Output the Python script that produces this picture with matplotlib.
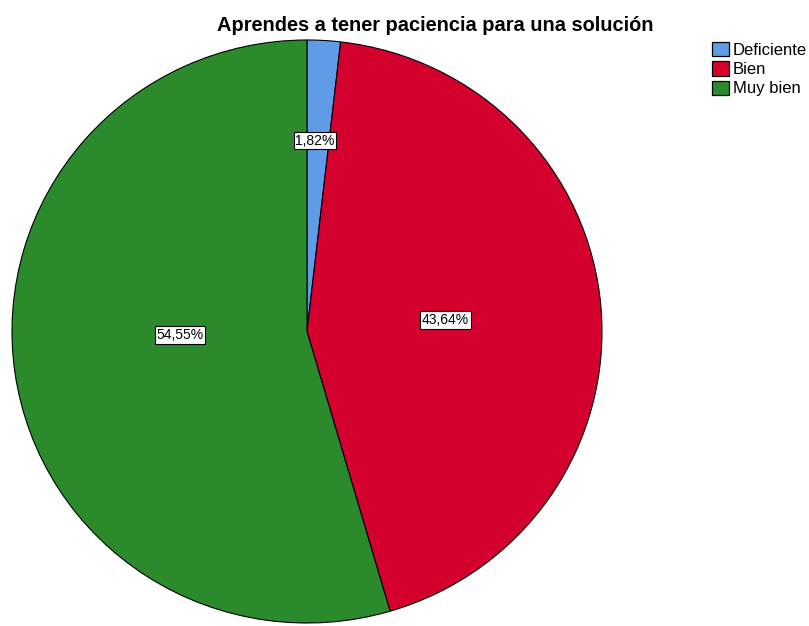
import numpy as np
import matplotlib.pyplot as plt
from matplotlib.patches import Patch

plt.rcParams['font.family'] = ['Liberation Sans', 'DejaVu Sans']

# datos
categorias = ['Deficiente', 'Bien', 'Muy bien']
porcentajes = [1.82, 43.64, 54.55]
colores = ['#5f9be6', '#d4002e', '#2b8a2b']
titulo = 'Aprendes a tener paciencia para una solución'

W, H = 809, 626
fig = plt.figure(figsize=(W / 100, H / 100), dpi=100)

# ejes en pixeles
cx, cy, rx, ry = 307, 331.5, 295, 291.5
ax = fig.add_axes([(cx - rx) / W, 1 - (cy + ry) / H, 2 * rx / W, 2 * ry / H])

wedges, _ = ax.pie(porcentajes, colors=colores, startangle=90, counterclock=False,
                   wedgeprops=dict(edgecolor='black', linewidth=0.8))
ax.set_aspect('auto')
ax.set_xlim(-1, 1)
ax.set_ylim(-1, 1)

# etiquetas con recuadro blanco (posicion en unidades del eje)
pos_etiquetas = [(0.027, 0.655), (0.47, 0.04), (-0.43, -0.012)]
for (x, y), p in zip(pos_etiquetas, porcentajes):
    ax.text(x, y, '{:.2f}%'.format(p).replace('.', ','),
            ha='center', va='center', fontsize=10,
            bbox=dict(boxstyle='square,pad=0.12', facecolor='white', edgecolor='black', linewidth=0.8))

fig.text(435 / W, 1 - 31 / H, titulo, ha='center', va='baseline', fontsize=14.4, fontweight='bold')

handles = [Patch(facecolor=c, edgecolor='black', linewidth=0.9, label=l) for c, l in zip(colores, categorias)]
fig.legend(handles=handles, loc='upper left', bbox_to_anchor=(712 / W, 1 - 42 / H), frameon=False,
           fontsize=12, handlelength=1.0, handleheight=0.95, handletextpad=0.25, labelspacing=0.2,
           borderpad=0, borderaxespad=0)

fig.savefig('out.png', dpi=100)
